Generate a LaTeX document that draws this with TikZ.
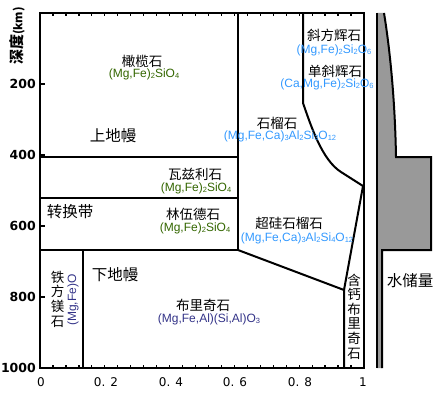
\documentclass[tikz,border=0pt]{standalone}
\usepackage{fontspec}
\setmainfont{Liberation Sans}
\newfontfamily\cjk{Noto Sans CJK SC}
\newfontfamily\dvs{DejaVu Sans}
\newcommand{\sbs}[1]{\raisebox{-1.6pt}{\fontsize{7.5}{7.5}\selectfont #1}}
\definecolor{olv}{HTML}{336600}
\definecolor{sky}{HTML}{3399FF}
\definecolor{nvy}{HTML}{333388}
\begin{document}
\begin{tikzpicture}[x=1pt,y=-1pt,
  cn/.style={font=\cjk\fontsize{13.5}{14.6}\selectfont, inner sep=0pt, align=center},
  cnbig/.style={font=\cjk\fontsize{15.5}{17}\selectfont, inner sep=0pt},
  fm/.style={font=\fontsize{12}{13}\selectfont, inner sep=0pt},
  ylab/.style={font=\dvs\bfseries\fontsize{12.5}{13}\selectfont, inner sep=0pt, anchor=east},
  xlab/.style={font=\dvs\fontsize{12}{13}\selectfont, inner sep=0pt},
  frame/.style={line width=2.7pt},
  bound/.style={line width=2pt},
  tick/.style={line width=1.3pt}]
\useasboundingbox (0,0) rectangle (438,396);

% coordinates
\coordinate (TL) at (40,13);
\coordinate (TR) at (364,13);
\coordinate (BR) at (364,368);
\coordinate (BL) at (40,368);

% ticks
\foreach \i in {1,...,24}{
  \draw[tick] (40+\i*12.96,13) -- ++(0,3.5);
  \draw[tick] (40+\i*12.96,368) -- ++(0,-3.5);
}
\foreach \yy in {84,155,226,297}{
  \draw[tick] (40,\yy) -- ++(4.5,0);
}

% boundaries
\draw[bound] (238,13) -- (238,250) coordinate (P660);
\draw[bound] (40,157) -- (238,157);
\draw[bound] (40,198) -- (238,198);
\draw[bound] (40,250) -- (P660);
\draw[bound] (83,250) -- (83,368);
\draw[bound] (P660) -- (344,290) coordinate (Q) -- (344,368);
\draw[bound] (303,13) -- (303,103) .. controls (311,126) and (322,160) .. (341,172) -- (363,186) coordinate (R);
\draw[bound] (R) -- (Q);

% frame
\draw[frame] (TR) -- (TL) -- (BL) -- (BR) -- cycle;

% water panel
\fill[black!40] (377,13) -- (384,13) .. controls (390,50) and (395,100) .. (396,157) -- (431,157) -- (431,250) -- (382,250) -- (382,368) -- (377,368) -- cycle;
\draw[bound] (377,368) -- (377,13);
\draw[bound] (384,13) .. controls (390,50) and (395,100) .. (396,157) -- (431,157) -- (431,250) -- (382,250) -- (382,368);

% axis labels
\node[font=\cjk\bfseries\fontsize{15}{16}\selectfont, rotate=90, inner sep=0pt] (ax) at (17,36) {深度{\fontsize{11.5}{12}\selectfont(km)}};
\node[ylab] (y200) at (36,84) {200};
\node[ylab] (y400) at (36,155) {400};
\node[ylab] (y600) at (36,226) {600};
\node[ylab] (y800) at (36,297) {800};
\node[ylab] (y1000) at (36,368) {1000};
\node[xlab] (x0) at (41,382) {0};
\node[xlab] (x2) at (106,382) {0. 2};
\node[xlab] (x4) at (171,382) {0. 4};
\node[xlab] (x6) at (235,382) {0. 6};
\node[xlab] (x8) at (300,382) {0. 8};
\node[xlab] (x10) at (363,382) {1};

% region labels
\node[cn] (ol) at (142,61) {橄榄石};
\node[fm, text=olv] (olf) at (144,74) {(Mg,Fe)\sbs{2}SiO\sbs{4}};
\node[cnbig] (um) at (113,136) {上地幔};
\node[cn] (wd) at (195,174) {瓦兹利石};
\node[fm, text=olv] (wdf) at (196,188) {(Mg,Fe)\sbs{2}SiO\sbs{4}};
\node[cnbig] (tz) at (70,212) {转换带};
\node[cn] (rw) at (193,214) {林伍德石};
\node[fm, text=olv] (rwf) at (195,228) {(Mg,Fe)\sbs{2}SiO\sbs{4}};
\node[cnbig] (lm) at (115,275) {下地幔};
\node[cn] (bg) at (203,305) {布里奇石};
\node[fm, text=nvy] (bgf) at (209,319) {(Mg,Fe,Al)(Si,Al)O\sbs{3}};
\node[cn] (fp) at (57.5,299) {铁\\方\\镁\\石};
\node[fm, text=nvy, rotate=90] (fpf) at (73,300) {(Mg,Fe)O};
\node[cn] (opx) at (334,35) {斜方辉石};
\node[fm, text=sky] (opxf) at (334,50) {(Mg,Fe)\sbs{2}Si\sbs{2}O\sbs{6}};
\node[cn] (cpx) at (335,71) {单斜辉石};
\node[fm, text=sky] (cpxf) at (327,84) {(Ca,Mg,Fe)\sbs{2}Si\sbs{2}O\sbs{6}};
\node[cn] (gt) at (277,123) {石榴石};
\node[fm, text=sky] (gtf) at (280,136) {(Mg,Fe,Ca)\sbs{3}Al\sbs{2}Si\sbs{3}O\sbs{12}};
\node[cn] (mj) at (289,223) {超硅石榴石};
\node[fm, text=sky] (mjf) at (297,238) {(Mg,Fe,Ca)\sbs{3}Al\sbs{2}Si\sbs{4}O\sbs{12}};
\node[cn] (cabg) at (354,316.5) {含\\钙\\布\\里\\奇\\石};
\node[cnbig] (wat) at (410,281) {水储量};
\end{tikzpicture}
\end{document}
